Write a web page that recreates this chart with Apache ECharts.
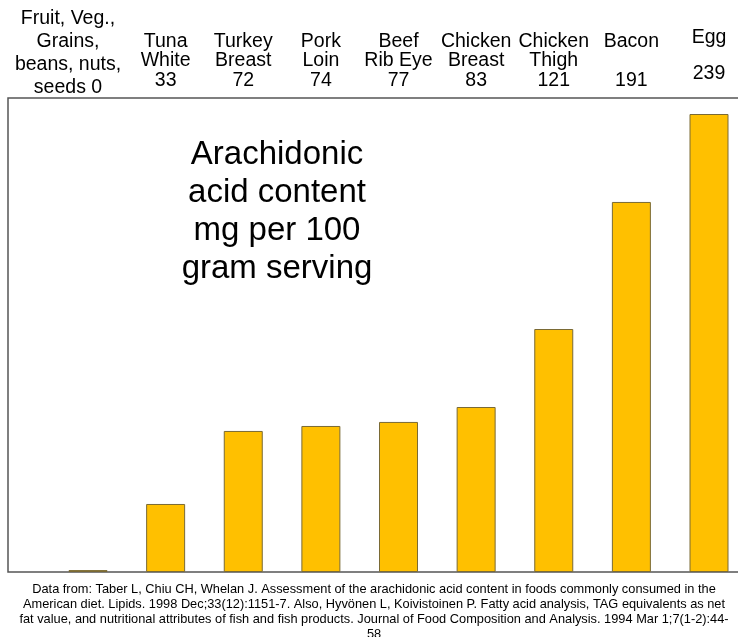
<!DOCTYPE html>
<html>
<head>
<meta charset="utf-8">
<script src="https://cdn.jsdelivr.net/npm/echarts@6/dist/echarts.min.js"></script>
<style>
  html, body { margin: 0; padding: 0; background: #fff; }
  #chart { width: 738px; height: 637px; }
</style>
</head>
<body>
<div id="chart"></div>
<script>
// category names as printed above the bars
const foods = [
  'Fruit, Veg.,\nGrains,\nbeans, nuts,\nseeds',
  'Tuna\nWhite',
  'Turkey\nBreast',
  'Pork\nLoin',
  'Beef\nRib Eye',
  'Chicken\nBreast',
  'Chicken\nThigh',
  'Bacon\n',
  'Egg\n'
]
// values printed in the labels (mg per 100 g)
const labelValues = [0, 33, 72, 74, 77, 83, 121, 191, 239]
// bar heights as drawn in the picture
const barValues = [1.0, 35.5, 73.6, 76.2, 78.3, 86.1, 126.8, 193.1, 239]

const titleText = 'Arachidonic\nacid content\nmg per 100\ngram serving'
const sourceText = 'Data from: Taber L, Chiu CH, Whelan J. Assessment of the arachidonic acid content in foods commonly consumed in the\n' +
  'American diet. Lipids. 1998 Dec;33(12):1151-7. Also, Hyvönen L, Koivistoinen P. Fatty acid analysis, TAG equivalents as net\n' +
  'fat value, and nutritional attributes of fish and fish products. Journal of Food Composition and Analysis. 1994 Mar 1;7(1-2):44-\n' +
  '58'

const FONT = '"Liberation Sans", Arial, sans-serif'

// per-label tweaks so the blocks sit like the original
const axisData = foods.map((f, i) => {
  let ts = { padding: [0, 0, 9, 0], lineHeight: 19.5 }
  if (i === 0) ts = { padding: [0, 40, 0, 0], lineHeight: 23 }
  if (i === foods.length - 1) ts = { padding: [0, 0, 16, 0], lineHeight: 18 }
  return { value: f, textStyle: ts }
})

const option = {
  backgroundColor: '#fff',
  animation: false,
  title: [{
    text: titleText,
    left: 272,
    top: 131,
    textAlign: 'center',
    textStyle: {
      fontFamily: FONT,
      fontSize: 33,
      fontWeight: 'normal',
      lineHeight: 38,
      color: '#000'
    }
  }, {
    text: sourceText,
    left: 369,
    top: 577,
    textAlign: 'center',
    textStyle: {
      fontFamily: FONT,
      fontSize: 12.8,
      fontWeight: 'normal',
      lineHeight: 15,
      color: '#000'
    }
  }],
  graphic: [{
    type: 'rect',
    shape: { x: 8, y: 98, width: 740, height: 474 },
    style: { fill: 'none', stroke: '#555', lineWidth: 1.5 },
    z: 0
  }],
  grid: {
    left: 88,
    right: 29,
    top: 114,
    bottom: 65,
    containLabel: false
  },
  xAxis: {
    type: 'category',
    position: 'top',
    boundaryGap: false,
    data: axisData,
    axisLine: { show: false },
    axisTick: { show: false },
    axisLabel: {
      interval: 0,
      margin: 15,
      fontFamily: FONT,
      fontSize: 19.5,
      color: '#000',
      verticalAlign: 'bottom',
      formatter: (value, idx) => {
        return idx === 0 ? value + ' ' + labelValues[idx] : value + '\n' + labelValues[idx]
      }
    }
  },
  yAxis: {
    type: 'value',
    min: 0,
    max: 239,
    show: false,
    splitLine: { show: false }
  },
  series: [{
    type: 'bar',
    data: barValues,
    barWidth: 39,
    itemStyle: {
      color: '#FFC000',
      borderColor: '#7a6a35',
      borderWidth: 1
    }
  }]
}

try {
  const chart = echarts.init(document.getElementById('chart'))
  chart.setOption(option, true)
} catch (e) {}
</script>
</body>
</html>
